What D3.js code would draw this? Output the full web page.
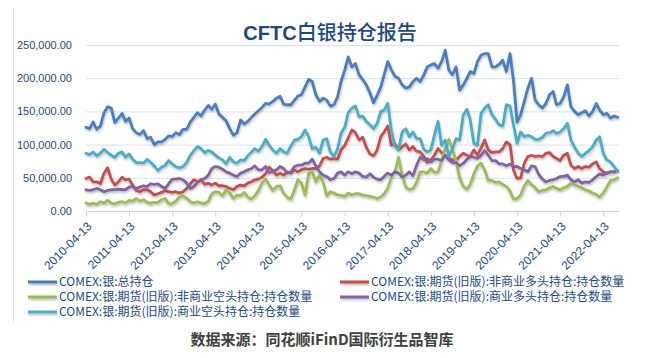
<!DOCTYPE html>
<html><head><meta charset="utf-8">
<script src="https://cdn.jsdelivr.net/npm/d3@7"></script>
<style>
html,body{margin:0;padding:0;background:#fff;}
svg{display:block;}
</style></head>
<body>
<svg id="chart" width="656" height="358"></svg>
<script>
// ---- DATA (monthly readings, values in thousands of contracts) ----
const startDate = "2010-04-13";
const monthCount = 149;
const tickLabels = ["2010-04-13","2011-04-13","2012-04-13","2013-04-13","2014-04-13","2015-04-13","2016-04-13","2017-04-13","2018-04-13","2019-04-13","2020-04-13","2021-04-13","2022-04-13"];
const yTicks = [0, 50000, 100000, 150000, 200000, 250000];
const unit = 1000;

const seriesNames = [
  "COMEX:银:总持仓",
  "COMEX:银:期货(旧版):非商业多头持仓:持仓数量",
  "COMEX:银:期货(旧版):非商业空头持仓:持仓数量",
  "COMEX:银:期货(旧版):商业多头持仓:持仓数量",
  "COMEX:银:期货(旧版):商业空头持仓:持仓数量"
];

const totalOI = [126,124,134,123,128,148,157,155,133,140,147,135,140,124,118,115,121,109,111,100,104,104,108,113,112,118,115,123,123,134,141,148,143,152,159,153,161,146,
 141,136,124,114,118,137,131,135,141,146,151,156,162,161,165,170,173,161,160,160,167,173,175,187,198,195,175,165,170,167,158,160,172,195,212,232,
 217,222,205,198,190,178,163,174,187,205,225,213,203,200,190,185,187,195,200,195,205,217,220,222,215,225,242,212,205,217,182,190,200,210,207,225,235,
 237,237,217,217,221,227,210,237,197,134,145,165,185,200,167,160,155,162,175,180,160,162,172,190,157,150,145,148,151,143,150,162,152,145,147,140,143,141];

const nonCommLong = [49,51,44,44,41,57,65,48,39,44,51,47,48,39,31,29,32,32,29,24,26,28,31,29,28,29,27,29,34,41,47,44,47,40,42,39,42,38,
 38,37,34,32,37,39,38,42,44,47,48,51,56,66,61,54,57,54,59,57,62,59,62,64,63,64,64,68,79,81,78,79,78,92,99,110,
 122,118,107,111,96,86,83,92,112,119,128,99,101,92,97,101,92,97,90,89,82,73,77,84,94,88,82,79,77,77,82,87,84,82,92,84,95,
 107,92,88,89,89,94,104,100,62,49,50,72,82,84,82,83,82,87,88,82,79,76,84,87,69,64,67,64,67,66,71,74,64,59,57,59,59,61];

const nonCommShort = [12,10,12,10,14,12,16,12,11,13,14,12,16,15,19,15,17,13,12,13,13,17,19,11,11,15,21,23,19,14,12,14,12,11,15,26,29,28,
 23,32,27,19,24,23,28,21,18,23,31,42,48,39,31,37,38,27,21,18,32,47,42,24,57,59,44,54,44,23,29,27,24,24,22,27,
 24,26,26,24,23,22,21,19,21,26,34,51,59,81,54,36,32,34,43,59,59,57,64,58,59,76,95,108,93,75,50,37,33,40,56,68,72,
 62,46,46,43,44,40,37,30,18,19,24,38,46,40,35,29,31,32,35,37,34,32,35,37,42,40,37,35,32,30,27,25,21,27,36,46,47,50];

const commLong = [32,31,32,34,32,29,31,32,32,33,32,32,36,37,34,36,38,37,41,40,41,37,34,41,48,48,49,47,42,34,37,43,47,49,54,64,67,66,
 63,59,57,54,52,57,59,62,64,68,62,62,67,58,59,62,67,64,57,59,67,69,69,72,72,78,68,59,54,52,47,49,57,59,54,59,
 56,59,57,52,51,56,51,48,47,52,57,54,59,57,51,54,59,53,69,81,77,79,74,78,78,76,84,77,73,73,68,72,78,82,81,79,84,
 91,84,76,76,71,71,68,71,67,67,64,62,59,68,67,55,48,44,46,47,49,52,52,54,47,44,47,42,44,43,47,52,56,54,57,59,59,60];

const commShort = [87,85,89,83,87,93,88,84,81,87,89,81,86,78,73,73,72,78,73,68,61,66,69,76,71,67,65,67,73,84,91,97,94,88,91,89,84,80,
 77,71,81,74,72,77,76,83,89,94,90,97,108,99,92,87,94,89,87,98,107,108,112,122,112,94,96,87,107,109,89,82,94,117,126,148,
 155,158,142,143,135,130,124,132,150,152,162,122,97,92,119,124,112,119,109,109,93,89,92,114,135,99,107,82,94,109,107,145,153,137,102,99,147,
 155,160,145,138,130,128,160,158,130,102,119,112,114,112,108,108,111,117,118,121,117,119,124,132,107,96,87,82,87,91,97,107,112,87,77,74,67,60];

const seriesColors = ["#4a7ebb","#c0504d","#9bbb59","#8064a2","#4bacc6"];

// ---- CHART ----
const svg = d3.select("#chart");
const parse = d3.timeParse("%Y-%m-%d");
const fmtDate = d3.timeFormat("%Y-%m-%d");
const t0 = parse(startDate);
const dates = d3.range(monthCount).map(i => d3.timeMonth.offset(t0, i));
const allSeries = [totalOI, nonCommLong, nonCommShort, commLong, commShort];

const plot = {left: 86, right: 619, top: 45, bottom: 211};
const x = d3.scaleTime().domain([t0, d3.timeDay.offset(dates[dates.length-1], 3)]).range([plot.left, plot.right - 1]);
const y = d3.scaleLinear().domain([0, 250000]).range([plot.bottom, plot.top]);

const navy = "#1f497d";

// chart area left border
svg.append("line").attr("x1", 13.5).attr("x2", 13.5).attr("y1", 8).attr("y2", 322)
  .attr("stroke", "#dbe3ee").attr("stroke-width", 1);

// title
const title = svg.append("text").attr("x", 330).attr("y", 40).attr("text-anchor", "middle")
  .attr("fill", navy).attr("font-family", "'Noto Sans CJK SC', sans-serif").attr("font-size", 20);
title.append("tspan").attr("font-weight", "bold").attr("font-family", "'Liberation Sans', sans-serif").text("CFTC");
title.append("tspan").attr("font-weight", "500").text("白银持仓报告");

// gridlines + y labels
const yAxis = d3.axisLeft(y).tickValues(yTicks).tickSize(-(plot.right - plot.left)).tickPadding(14)
  .tickFormat(d3.format(",.2f"));
const gy = svg.append("g").attr("transform", `translate(${plot.left},0)`).call(yAxis);
gy.select(".domain").remove();
gy.selectAll(".tick line").attr("stroke", "#d7e1ef").attr("stroke-width", 1);
gy.selectAll(".tick text").attr("fill", navy).attr("font-size", 11)
  .attr("font-family", "'Liberation Sans', Arial, sans-serif");

// x axis
const xTickDates = tickLabels.map(parse);
const xAxis = d3.axisBottom(x).tickValues(xTickDates).tickSize(5).tickFormat(fmtDate);
const gx = svg.append("g").attr("transform", `translate(0,${plot.bottom})`).call(xAxis);
gx.select(".domain").attr("stroke", "#c6d5ea").attr("d", `M${plot.left},0.5H${plot.right}`);
gx.selectAll(".tick line").attr("stroke", "#c6d5ea");
gx.selectAll(".tick text")
  .attr("fill", navy).attr("font-size", 12).attr("font-family", "'Liberation Sans', Arial, sans-serif")
  .attr("text-anchor", "end").attr("y", 0).attr("dy", 0)
  .attr("transform", "translate(6,16) rotate(-45)");

// shadow filter
const defs = svg.append("defs");
const f = defs.append("filter").attr("id", "shadow").attr("filterUnits", "userSpaceOnUse")
  .attr("x", 0).attr("y", 0).attr("width", 656).attr("height", 358);
f.append("feDropShadow").attr("dx", 0.6).attr("dy", 1.6).attr("stdDeviation", 1.1)
  .attr("flood-color", "#000").attr("flood-opacity", 0.28);

const line = d3.line().x((d, i) => x(dates[i])).y(d => y(d * unit));
const lines = svg.append("g").attr("filter", "url(#shadow)");
allSeries.forEach((s, k) => {
  lines.append("path").datum(s).attr("d", line).attr("fill", "none")
    .attr("stroke", seriesColors[k]).attr("stroke-width", 2.8)
    .attr("stroke-linejoin", "round").attr("stroke-linecap", "round");
});

// legend
const legendPos = [[28, 282], [340, 282], [28, 297], [340, 297], [28, 312]];
const lg = svg.append("g");
seriesNames.forEach((name, k) => {
  const [lx, ly] = legendPos[k];
  lg.append("line").attr("x1", lx).attr("x2", lx + 29).attr("y1", ly).attr("y2", ly)
    .attr("stroke", seriesColors[k]).attr("stroke-width", 3).attr("filter", "url(#shadow)");
  lg.append("text").attr("x", lx + 31).attr("y", ly).attr("dy", "0.36em")
    .attr("fill", navy).attr("font-size", 12)
    .attr("font-family", "'Noto Sans CJK SC', sans-serif").text(name);
});

// source
svg.append("text").attr("x", 322).attr("y", 340).attr("dy", "0.35em").attr("text-anchor", "middle")
  .attr("fill", "#404040").attr("font-weight", "bold").attr("font-size", 15)
  .attr("font-family", "'Noto Sans CJK SC', sans-serif").text("数据来源：同花顺iFinD国际衍生品智库");
</script>
</body></html>
